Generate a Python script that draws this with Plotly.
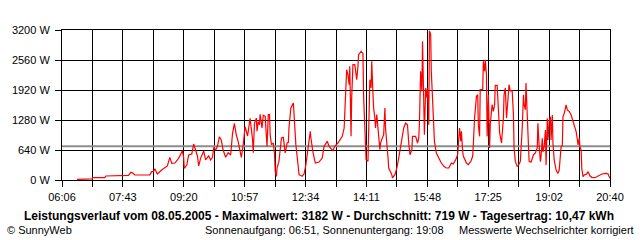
import plotly.graph_objects as go
import numpy as np

# Minutes after midnight and power in W
times = [
    390, 414, 415, 434, 436, 458, 460, 472, 476, 479,
    482, 488, 506, 509, 512, 514, 518, 525, 530, 534,
    538, 541, 546, 552, 558, 560, 561, 565, 568, 573,
    576, 579, 582, 584, 587, 592, 595, 600, 603, 606,
    608, 611, 614, 617, 620, 623, 627, 631, 635, 638,
    641, 644, 647, 652, 655, 658, 662, 666, 670, 671,
    673, 676, 677, 679, 681, 682, 685, 687, 690, 693,
    695, 697, 698, 700, 703, 705, 706, 708, 709, 712,
    716, 719, 722, 725, 727, 728, 731, 735, 736, 739,
    743, 744, 749, 752, 755, 758, 762, 763, 766, 770,
    776, 781, 784, 789, 792, 798, 801, 806, 809, 813,
    816, 817, 819, 820, 822, 824, 825, 827, 828, 830,
    833, 836, 838, 839, 843, 846, 847, 849, 851, 854,
    855, 857, 859, 860, 862, 863, 865, 866, 868, 870,
    871, 873, 874, 878, 879, 881, 882, 886, 887, 892,
    893, 897, 900, 903, 905, 909, 911, 914, 917, 919,
    921, 924, 925, 930, 933, 935, 936, 938, 940, 941,
    943, 944, 946, 948, 949, 951, 952, 954, 955, 959,
    960, 963, 967, 971, 975, 979, 983, 987, 990, 994,
    997, 998, 1000, 1002, 1003, 1005, 1006, 1011, 1014, 1018,
    1021, 1022, 1024, 1027, 1029, 1030, 1032, 1033, 1037, 1038,
    1040, 1041, 1043, 1044, 1046, 1048, 1049, 1052, 1054, 1056,
    1057, 1060, 1062, 1064, 1067, 1068, 1070, 1071, 1073, 1075,
    1078, 1079, 1081, 1084, 1086, 1087, 1089, 1092, 1094, 1097,
    1100, 1102, 1103, 1105, 1106, 1108, 1110, 1111, 1114, 1118,
    1121, 1124, 1125, 1127, 1129, 1130, 1132, 1133, 1135, 1137,
    1138, 1140, 1141, 1143, 1145, 1146, 1148, 1149, 1151, 1154,
    1157, 1159, 1162, 1164, 1165, 1167, 1170, 1172, 1175, 1178,
    1181, 1184, 1186, 1188, 1189, 1191, 1192, 1194, 1195, 1197,
    1199, 1203, 1205, 1208, 1211, 1216, 1221, 1227, 1234, 1237,
    1238, 1240,
]
watts = [
    15, 25, 50, 50, 85, 90, 100, 100, 164, 150,
    107, 110, 110, 178, 178, 242, 128, 213, 263, 299,
    484, 355, 362, 462, 626, 484, 249, 320, 533, 555,
    768, 640, 512, 299, 462, 619, 427, 512, 427, 484,
    697, 640, 725, 924, 853, 640, 484, 583, 533, 995,
    1209, 960, 817, 484, 747, 1138, 939, 1316, 853, 583,
    1209, 1320, 1040, 1245, 1180, 1400, 1109, 1380, 1358, 718,
    1394, 1394, 967, 754, 789, 540, 185, 78, 256, 398,
    896, 910, 576, 789, 800, 1109, 1536, 1643, 1394, 754,
    256, 114, 78, 128, 327, 612, 1038, 896, 612, 362,
    384, 469, 718, 825, 718, 626, 718, 789, 841, 931,
    1109, 1536, 1963, 2354, 2247, 2034, 2425, 931, 1749, 2460,
    2460, 2140, 2425, 2674, 2745, 2700, 1800, 1100, 434, 398,
    1180, 2140, 1963, 2531, 1820, 1536, 1323, 1109, 1394, 1145,
    1038, 647, 789, 931, 967, 1536, 1109, 469, 256, 114,
    43, 114, 256, 469, 612, 967, 1109, 1216, 1180, 789,
    540, 647, 931, 931, 789, 896, 1180, 2318, 1892, 2958,
    1109, 967, 1963, 1749, 1963, 1180, 3182, 3100, 2318, 1180,
    825, 576, 469, 362, 291, 256, 260, 362, 340, 434,
    540, 825, 1109, 825, 1038, 612, 512, 362, 327, 398,
    505, 754, 1323, 1785, 1820, 1180, 931, 1927, 1927, 2531,
    2318, 2566, 2247, 931, 1820, 683, 1180, 1607, 1465, 1607,
    2020, 2020, 1323, 1003, 789, 1003, 1323, 1820, 1963, 1323,
    1749, 2034, 1900, 1900, 1394, 683, 398, 291, 310, 398,
    1109, 1820, 1607, 1500, 2069, 1180, 718, 398, 380, 540,
    576, 683, 1209, 718, 391, 500, 889, 600, 711, 1067,
    320, 1316, 853, 1245, 1351, 853, 1387, 800, 427, 213,
    142, 213, 711, 740, 1351, 1422, 1600, 1493, 1460, 1387,
    1245, 1138, 1031, 853, 747, 900, 711, 640, 249, 71,
    107, 130, 178, 90, 57, 50, 90, 128, 140, 128,
    90, 36,
]
average_w = 719

x_tick_labels = ["06:06", "07:43", "09:20", "10:57", "12:34",
                 "14:11", "15:48", "17:25", "19:02", "20:40"]
y_tick_values = [0, 640, 1280, 1920, 2560, 3200]
y_tick_labels = ["0 W", "640 W", "1280 W", "1920 W", "2560 W", "3200 W"]

title_text = ("Leistungsverlauf vom 08.05.2005 - Maximalwert: 3182 W - "
              "Durchschnitt: 719 W - Tagesertrag: 10,47 kWh")
copyright_text = "© SunnyWeb"
sun_text = "Sonnenaufgang: 06:51, Sonnenuntergang: 19:08"
note_text = "Messwerte Wechselrichter korrigiert"

x_start, x_end = 366, 1240
x_grid = list(np.linspace(x_start, x_end, 19))
x_text = []
for i in range(19):
    x_text.append(x_tick_labels[i // 2] if i % 2 == 0 else "")

FONT = "Liberation Sans, Arial, sans-serif"

fig = go.Figure()
fig.add_trace(go.Scatter(x=[x_start, x_end], y=[average_w, average_w], mode="lines",
                         line=dict(color="#8c8c8c", width=2), hoverinfo="skip"))
fig.add_trace(go.Scatter(x=times, y=watts, mode="lines",
                         line=dict(color="#ff0000", width=1.2)))

fig.update_layout(
    width=640, height=240,
    margin=dict(l=60, r=30, t=30, b=60),
    paper_bgcolor="white", plot_bgcolor="white",
    showlegend=False,
    font=dict(family=FONT, size=11, color="black"),
    xaxis=dict(range=[x_start, x_end], tickmode="array", tickvals=x_grid, ticktext=x_text,
               showgrid=True, gridcolor="black", gridwidth=1,
               ticks="outside", ticklen=6, tickcolor="black", tickwidth=1,
               showline=True, mirror=True, linecolor="black", linewidth=1,
               zeroline=False, tickfont=dict(size=11), ticklabelstandoff=1),
    yaxis=dict(range=[0, 3200], tickmode="array", tickvals=y_tick_values, ticktext=y_tick_labels,
               showgrid=True, gridcolor="black", gridwidth=1,
               ticks="outside", ticklen=6, tickcolor="black", tickwidth=1,
               showline=True, mirror=True, linecolor="black", linewidth=1,
               zeroline=False, tickfont=dict(size=11), ticklabelstandoff=3),
)

def px_x(px):
    return (px - 60) / 550.0

def px_y(py):
    return (180 - py) / 150.0

fig.add_annotation(text="<b>" + title_text + "</b>", x=px_x(318), y=px_y(216),
                   xref="paper", yref="paper", xanchor="center", yanchor="middle",
                   showarrow=False, font=dict(size=12, family=FONT))
fig.add_annotation(text=copyright_text, x=px_x(3), y=px_y(230),
                   xref="paper", yref="paper", xanchor="left", yanchor="middle",
                   showarrow=False, font=dict(size=11, family=FONT))
fig.add_annotation(text=sun_text, x=px_x(202), y=px_y(230),
                   xref="paper", yref="paper", xanchor="left", yanchor="middle",
                   showarrow=False, font=dict(size=11, family=FONT))
fig.add_annotation(text=note_text, x=px_x(636), y=px_y(230),
                   xref="paper", yref="paper", xanchor="right", yanchor="middle",
                   showarrow=False, font=dict(size=11, family=FONT))

fig.write_html("out.html")
